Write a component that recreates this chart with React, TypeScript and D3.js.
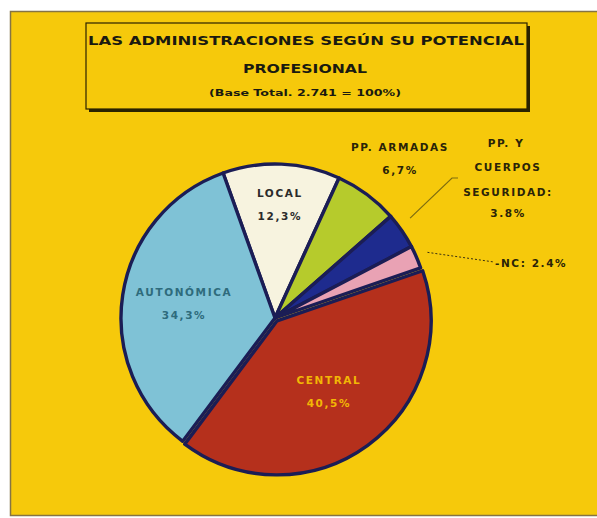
import React from "react";
import * as d3 from "d3";

const categories = ["LOCAL", "PP. ARMADAS", "PP. Y CUERPOS SEGURIDAD", "NC", "CENTRAL", "AUTONÓMICA"];
const values = [12.3, 6.7, 3.8, 2.4, 40.5, 34.3];
const valueLabels = ["12,3%", "6,7%", "3.8%", "2.4%", "40,5%", "34,3%"];
const sliceColors = ["#F7F3DF", "#B6CB2C", "#1E2B8E", "#E9A2B4", "#B5301C", "#7FC2D6"];
const titleLines = ["LAS ADMINISTRACIONES SEGÚN SU POTENCIAL", "PROFESIONAL"];
const subtitle = "(Base Total. 2.741 = 100%)";

const W = 597;
const H = 518;
const cx = 275;
const cy = 318;
const R = 154;
const startDeg = -19.7;

export default function App() {
  const start = (startDeg * Math.PI) / 180;
  const pie = d3
    .pie<number>()
    .sort(null)
    .startAngle(start)
    .endAngle(start + 2 * Math.PI);
  const arcs = pie(values);
  const arc = d3.arc<d3.PieArcDatum<number>>().innerRadius(0).outerRadius(R);

  const mid = (a: d3.PieArcDatum<number>) => (a.startAngle + a.endAngle) / 2;
  const polar = (ang: number, r: number): [number, number] => [Math.sin(ang) * r, -Math.cos(ang) * r];

  const explode = [0, 0, 0, 0, 3.5, 0];
  const inLabelR: Record<number, number> = { 0: 113, 4: 88, 5: 92 };
  const inLabelColor: Record<number, string> = { 0: "#2b2b2b", 4: "#F2B705", 5: "#2E6B7C" };
  const inLabelName: Record<number, string> = { 0: "LOCAL", 4: "CENTRAL", 5: "AUTONÓMICA" };

  const font = "'DejaVu Sans', Verdana, sans-serif";
  const lblStyle = { fontFamily: font, fontSize: 10.5, fontWeight: 700 as const, letterSpacing: 1.6 };

  const cuerposMid = mid(arcs[2]);
  const [cx1, cy1] = polar(cuerposMid - 0.035, R + 14);
  const ncMid = mid(arcs[3]);
  const [nx1, ny1] = polar(ncMid, R + 12);

  return (
    <svg width={W} height={H} style={{ position: "absolute", left: 0, top: 0, background: "#ffffff" }}>
      <rect x={10.5} y={11.5} width={W - 8} height={H - 14} fill="#F6C90B" stroke="#857444" strokeWidth={1.5} />

      <rect x={89} y={26} width={441} height={86} fill="#2a2200" />
      <rect x={86} y={23} width={441} height={86} fill="#F6C90B" stroke="#2a2200" strokeWidth={1.2} />
      <text x={306} y={45} textAnchor="middle" fontFamily={font} fontSize={12.5} fontWeight={700} fill="#1a1a10" textLength={436} lengthAdjust="spacingAndGlyphs">
        {titleLines[0]}
      </text>
      <text x={305} y={73} textAnchor="middle" fontFamily={font} fontSize={12.5} fontWeight={700} fill="#1a1a10" textLength={124} lengthAdjust="spacingAndGlyphs">
        {titleLines[1]}
      </text>
      <text x={305} y={96} textAnchor="middle" fontFamily={font} fontSize={9.5} fontWeight={700} fill="#1a1a10" textLength={192} lengthAdjust="spacingAndGlyphs">
        {subtitle}
      </text>

      <g transform={`translate(${cx},${cy})`}>
        {arcs.map((a, i) => {
          const [dx, dy] = polar(mid(a), explode[i]);
          return (
            <path
              key={categories[i]}
              d={arc(a) || ""}
              transform={`translate(${dx},${dy})`}
              fill={sliceColors[i]}
              stroke="#1b1d55"
              strokeWidth={3.4}
              strokeLinejoin="round"
            />
          );
        })}
        {arcs.map((a, i) => {
          if (inLabelR[i] === undefined) return null;
          const [dx, dy] = polar(mid(a), explode[i]);
          const [lx, ly] = polar(mid(a), inLabelR[i]);
          return (
            <g key={"l" + i} transform={`translate(${lx + dx},${ly + dy})`} fill={inLabelColor[i]} style={lblStyle} textAnchor="middle">
              <text y={-8}>{inLabelName[i]}</text>
              <text y={15}>{valueLabels[i]}</text>
            </g>
          );
        })}
        <polyline
          points={`${cx1},${cy1} ${452 - cx},${178 - cy} ${458 - cx},${178 - cy}`}
          fill="none"
          stroke="#7d6c10"
          strokeWidth={1.2}
        />
        <polyline
          points={`${nx1},${ny1} ${494 - cx},${262 - cy}`}
          fill="none"
          stroke="#3a3010"
          strokeWidth={1}
          strokeDasharray="2,2"
        />
      </g>

      <g fill="#2a2408" style={lblStyle} textAnchor="middle">
        <text x={400} y={151}>{categories[1]}</text>
        <text x={400} y={174}>{valueLabels[1]}</text>
        <text x={506} y={147}>PP. Y</text>
        <text x={508} y={171}>CUERPOS</text>
        <text x={508} y={196}>SEGURIDAD:</text>
        <text x={508} y={217}>{valueLabels[2]}</text>
      </g>
      <text x={495} y={267} fill="#2a2408" style={lblStyle}>
        {"-" + categories[3] + ": " + valueLabels[3]}
      </text>
    </svg>
  );
}
